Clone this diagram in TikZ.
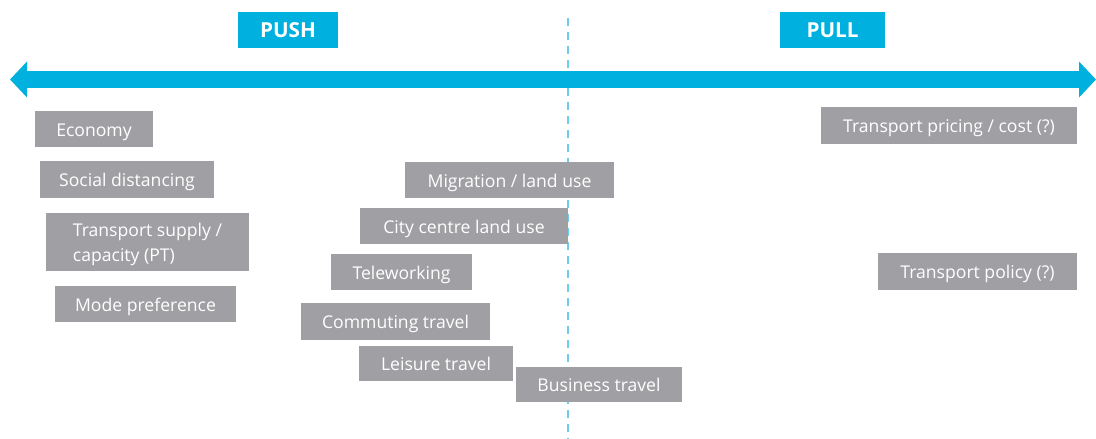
\documentclass[tikz,border=0pt]{standalone}
\usepackage{fontspec}
\setmainfont{Open Sans}
\usetikzlibrary{positioning,arrows.meta}

\definecolor{pushblue}{RGB}{0,176,222}
\definecolor{dashblue}{RGB}{110,205,238}
\definecolor{factorgray}{RGB}{160,160,164}

\tikzset{
  factor/.style={fill=factorgray, text=white, font=\fontsize{13.2}{18.75}\selectfont, inner sep=0pt, align=left, text height=11pt, text depth=0pt},
  sidelabel/.style={fill=pushblue, text=white, font=\fontsize{15.5}{17}\selectfont\bfseries, inner sep=0pt, minimum height=27pt, text height=11pt, text depth=0pt},
}

\begin{document}
\begin{tikzpicture}[x=0.75pt, y=-0.75pt]
\useasboundingbox (0,0) rectangle (1096,439);

% Side labels
\node[sidelabel, minimum width=75pt] (push) at (288,30) {PUSH};
\node[sidelabel, minimum width=79pt] (pull) at (832.5,30) {PULL};

% Axis
\coordinate (lefttip) at (10,79.5);
\coordinate (righttip) at (1096,79.5);
\coordinate (dtop) at (568,18);
\coordinate (dbot) at (568,439);
\draw[dashblue, line width=1.5pt, dash pattern=on 6pt off 4.5pt] (dtop) -- (dbot);
\draw[pushblue, line width=12.75pt, {Triangle[width=26.25pt, length=12.75pt]}-{Triangle[width=26.25pt, length=12.75pt]}] (lefttip) -- (righttip);

% Push factors
\node[factor, minimum width=88.5pt, minimum height=27pt] (economy) at (94,129) {Economy};
\node[factor, minimum width=130.5pt, minimum height=27.75pt] (social) at (127,179.5) {Social distancing};
\node[factor, text height={}, minimum width=152.25pt, minimum height=43.5pt] (supply) at (147.5,242) {Transport supply /\\capacity (PT)};
\node[factor, minimum width=135.75pt, minimum height=27pt] (mode) at (145.5,304) {Mode preference};

% Middle factors
\node[factor, minimum width=156.75pt, minimum height=27pt] (migration) at (509.5,180) {Migration / land use};
\node[factor, minimum width=156pt, minimum height=27pt] (citycentre) at (464,226) {City centre land use};
\node[factor, minimum width=105.75pt, minimum height=27pt] (telework) at (401.5,272) {Teleworking};
\node[factor, minimum width=141.75pt, minimum height=27.75pt] (commuting) at (395.5,321.5) {Commuting travel};
\node[factor, minimum width=115.5pt, minimum height=26.25pt] (leisure) at (436,363.5) {Leisure travel};
\node[factor, minimum width=124.5pt, minimum height=26.25pt] (business) at (599,384.5) {Business travel};

% Pull factors
\node[factor, minimum width=192pt, minimum height=27.75pt] (pricing) at (949,125.5) {Transport pricing / cost (?)};
\node[factor, minimum width=149.25pt, minimum height=27.75pt] (policy) at (977.5,271.5) {Transport policy (?)};
\end{tikzpicture}
\end{document}
